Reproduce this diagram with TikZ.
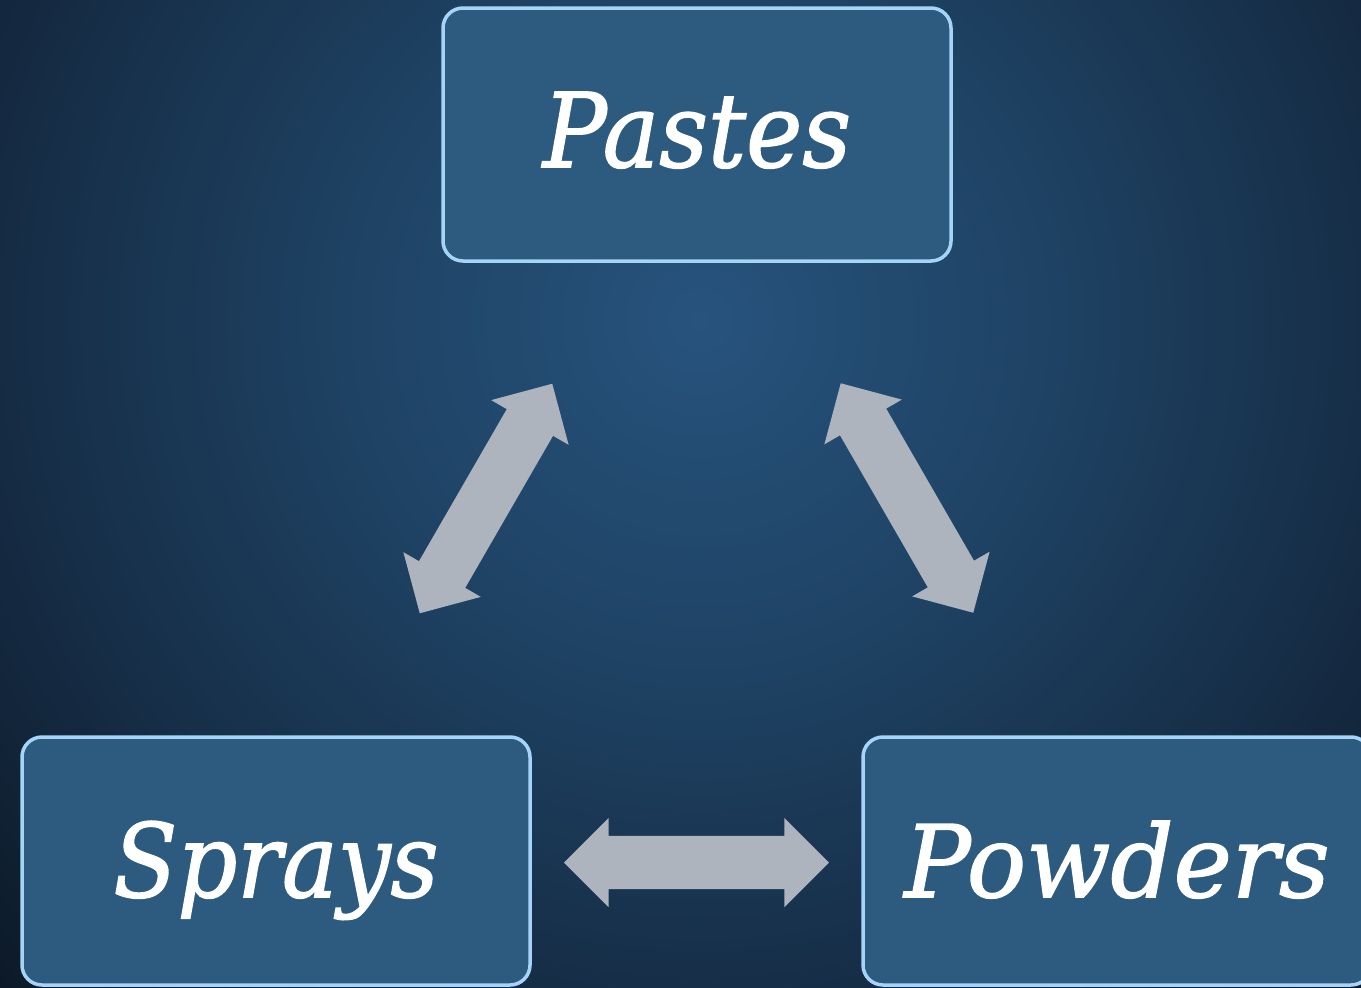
\documentclass[tikz,border=0pt]{standalone}
\usepackage{fontspec}
\setmainfont{DejaVu Serif}[ItalicFeatures={FakeBold=1.5}]
\usetikzlibrary{shapes.arrows}
\definecolor{bgA}{HTML}{27537D}
\definecolor{bgB}{HTML}{1E4263}
\definecolor{bgC}{HTML}{162D46}
\definecolor{bgD}{HTML}{0B1724}
\definecolor{boxfill}{HTML}{2C5B7F}
\definecolor{boxline}{HTML}{A5D4F8}
\definecolor{arrowgray}{HTML}{ADB4BE}
\pgfdeclareradialshading{bgshade}{\pgfpoint{0bp}{0bp}}{color(0bp)=(bgA); color(9bp)=(bgB); color(17bp)=(bgC); color(25bp)=(bgD); color(50bp)=(bgD)}
\tikzset{
  itembox/.style={draw=boxline, line width=3.5pt, fill=boxfill, rounded corners=20pt,
    inner sep=0pt, text=white, text depth=0pt, font=\itshape},
  blockarrow/.style={shape=double arrow, fill=arrowgray, draw=none,
    inner xsep=0pt, inner ysep=26.5pt, text height=0pt, text depth=0pt,
    minimum height=265pt, double arrow head extend=18pt,
    double arrow tip angle=90}
}
\begin{document}
\begin{tikzpicture}[x=1pt,y=-1pt]
\useasboundingbox (0,0) rectangle (1361,988);
\begin{scope}
\clip (0,0) rectangle (1361,988);
\shade[shading=bgshade] (-300,-680) rectangle (1700,1320);
% boxes
\node[itembox, minimum width=508pt, minimum height=253pt, text height=65pt]
  (pastes) at (697,134.5) {\resizebox{308pt}{75pt}{Pastes}};
\node[itembox, minimum width=508pt, minimum height=248pt, text height=72pt]
  (sprays) at (276,861) {\resizebox{325pt}{76pt}{Sprays}};
\node[itembox, minimum width=508pt, minimum height=248pt, text height=72pt]
  (powders) at (1117,861) {\resizebox{425pt}{76pt}{Powders}};
% block arrows
\node[blockarrow, rotate=60] (a1) at (486,498.5) {};
\node[blockarrow, rotate=-60] (a2) at (907,498) {};
\node[blockarrow] (a3) at (696.5,862.5) {};
\end{scope}
\end{tikzpicture}
\end{document}
